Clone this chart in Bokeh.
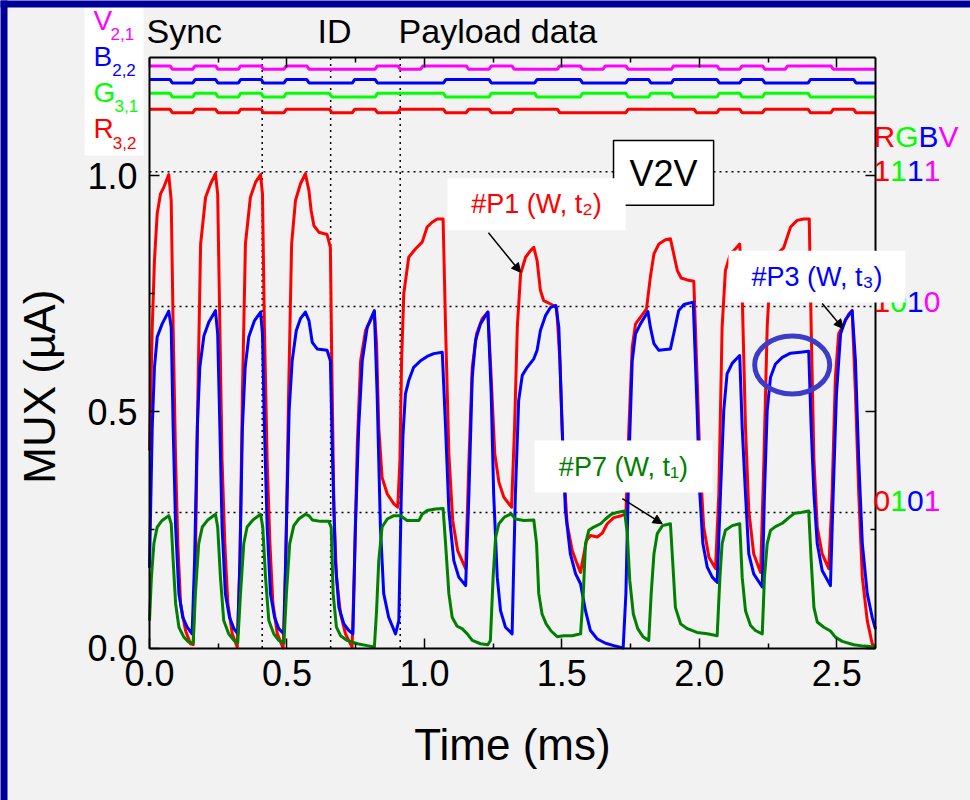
from math import pi

from bokeh.plotting import figure
from bokeh.models import (Range1d, LinearAxis, FixedTicker, NumeralTickFormatter, Label,
                          BoxAnnotation, Arrow, NormalHead)
from bokeh.embed import file_html
from bokeh.resources import INLINE

FONT = "Liberation Sans"
BG = "#f2f2f2"
NAVY = "#000099"

# ---------------------------------------------------------------- data
# bit streams of the four colour channels (1 = on), one entry per bit slot
bits_V = [1, 0, 1, 0, 1, 0, 1, 0, 0, 0, 1, 0, 1, 1, 0, 1, 0, 0, 1, 0, 1, 0, 0, 1, 1, 0, 1, 0, 1, 1, 0, 0]
bits_B = [1, 0, 1, 0, 1, 0, 1, 0, 0, 1, 0, 0, 0, 1, 1, 0, 0, 1, 1, 0, 0, 1, 0, 1, 1, 0, 1, 0, 0, 1, 1, 0]
bits_G = [1, 0, 1, 0, 1, 0, 1, 1, 0, 0, 1, 1, 1, 0, 0, 1, 1, 0, 0, 1, 1, 0, 1, 0, 0, 1, 0, 1, 1, 0, 0, 0]
bits_R = [1, 0, 1, 0, 1, 0, 1, 1, 0, 1, 0, 1, 1, 0, 1, 0, 1, 1, 0, 0, 0, 1, 1, 1, 0, 1, 0, 1, 1, 0, 1, 0]
bit_period = 0.0829   # ms
bit_start = -0.004    # ms

# MUX photocurrent traces (time in ms, current in uA)
p1_red = [
    (0.000, 0.418), (0.010, 0.679), (0.018, 0.820), (0.028, 0.919), (0.040, 0.961), (0.052, 0.975),
    (0.070, 1.002), (0.079, 0.947), (0.086, 0.679), (0.095, 0.397), (0.103, 0.221), (0.113, 0.094),
    (0.131, 0.037), (0.149, 0.009), (0.159, 0.007), (0.167, 0.185), (0.176, 0.538), (0.186, 0.855),
    (0.204, 0.954), (0.222, 0.982), (0.240, 1.004), (0.248, 0.961), (0.256, 0.679), (0.264, 0.397),
    (0.274, 0.221), (0.285, 0.094), (0.301, 0.030), (0.319, 0.002), (0.329, 0.185), (0.338, 0.538),
    (0.349, 0.855), (0.367, 0.954), (0.386, 0.986), (0.404, 1.002), (0.411, 0.961), (0.418, 0.679),
    (0.428, 0.397), (0.438, 0.221), (0.449, 0.094), (0.465, 0.030), (0.486, 0.000), (0.496, 0.185),
    (0.506, 0.538), (0.517, 0.855), (0.531, 0.947), (0.549, 0.982), (0.567, 1.004), (0.580, 0.968),
    (0.588, 0.926), (0.598, 0.894), (0.616, 0.880), (0.646, 0.875), (0.658, 0.848), (0.663, 0.608),
    (0.671, 0.291), (0.680, 0.150), (0.695, 0.072), (0.713, 0.030), (0.737, 0.002), (0.746, 0.185),
    (0.756, 0.432), (0.768, 0.608), (0.786, 0.672), (0.804, 0.693), (0.818, 0.711), (0.826, 0.644),
    (0.834, 0.467), (0.846, 0.361), (0.865, 0.326), (0.889, 0.305), (0.903, 0.298), (0.911, 0.397),
    (0.917, 0.608), (0.925, 0.750), (0.943, 0.827), (0.968, 0.845), (0.992, 0.859), (1.010, 0.891),
    (1.028, 0.901), (1.047, 0.908), (1.068, 0.908), (1.077, 0.679), (1.089, 0.411), (1.103, 0.270),
    (1.121, 0.206), (1.137, 0.185), (1.150, 0.168), (1.162, 0.397), (1.174, 0.594), (1.190, 0.665),
    (1.210, 0.697), (1.231, 0.711), (1.243, 0.573), (1.256, 0.411), (1.271, 0.351), (1.289, 0.319),
    (1.317, 0.298), (1.328, 0.467), (1.338, 0.679), (1.350, 0.792), (1.368, 0.827), (1.386, 0.841),
    (1.398, 0.848), (1.410, 0.820), (1.422, 0.757), (1.434, 0.735), (1.459, 0.728), (1.481, 0.721),
    (1.493, 0.608), (1.505, 0.397), (1.519, 0.263), (1.538, 0.206), (1.553, 0.182), (1.568, 0.160),
    (1.578, 0.192), (1.590, 0.228), (1.604, 0.238), (1.629, 0.235), (1.647, 0.243), (1.665, 0.263),
    (1.689, 0.276), (1.716, 0.280), (1.733, 0.284), (1.744, 0.467), (1.756, 0.637), (1.768, 0.686),
    (1.786, 0.700), (1.808, 0.718), (1.822, 0.785), (1.835, 0.834), (1.853, 0.855), (1.877, 0.864),
    (1.895, 0.866), (1.907, 0.834), (1.920, 0.799), (1.934, 0.783), (1.956, 0.779), (1.980, 0.776),
    (1.990, 0.608), (2.002, 0.397), (2.016, 0.256), (2.035, 0.192), (2.059, 0.168), (2.071, 0.326),
    (2.083, 0.679), (2.095, 0.799), (2.113, 0.834), (2.132, 0.845), (2.147, 0.855), (2.156, 0.750),
    (2.168, 0.467), (2.180, 0.291), (2.198, 0.199), (2.223, 0.160), (2.235, 0.397), (2.247, 0.679),
    (2.259, 0.806), (2.283, 0.834), (2.307, 0.847), (2.332, 0.891), (2.356, 0.905), (2.380, 0.908),
    (2.400, 0.908), (2.407, 0.679), (2.417, 0.397), (2.429, 0.256), (2.447, 0.199), (2.471, 0.168),
    (2.483, 0.326), (2.495, 0.573), (2.507, 0.665), (2.526, 0.686), (2.544, 0.707), (2.556, 0.714),
    (2.568, 0.538), (2.580, 0.326), (2.593, 0.150), (2.611, 0.058), (2.629, 0.009), (2.641, 0.000),
]

p3_blue = [
    (0.000, 0.170), (0.010, 0.467), (0.018, 0.594), (0.028, 0.658), (0.046, 0.686), (0.062, 0.704),
    (0.070, 0.713), (0.079, 0.679), (0.086, 0.467), (0.095, 0.256), (0.107, 0.115), (0.121, 0.065),
    (0.137, 0.044), (0.155, 0.030), (0.164, 0.185), (0.174, 0.467), (0.183, 0.594), (0.198, 0.661),
    (0.216, 0.690), (0.240, 0.714), (0.248, 0.665), (0.256, 0.467), (0.264, 0.256), (0.276, 0.115),
    (0.291, 0.065), (0.307, 0.041), (0.321, 0.030), (0.329, 0.185), (0.338, 0.467), (0.348, 0.594),
    (0.361, 0.658), (0.382, 0.693), (0.404, 0.711), (0.411, 0.665), (0.418, 0.467), (0.428, 0.256),
    (0.440, 0.115), (0.455, 0.065), (0.470, 0.041), (0.489, 0.030), (0.498, 0.256), (0.508, 0.503),
    (0.519, 0.608), (0.534, 0.672), (0.549, 0.697), (0.567, 0.711), (0.580, 0.693), (0.592, 0.647),
    (0.610, 0.633), (0.646, 0.630), (0.658, 0.608), (0.666, 0.397), (0.676, 0.185), (0.689, 0.086),
    (0.707, 0.051), (0.725, 0.037), (0.740, 0.030), (0.749, 0.256), (0.761, 0.467), (0.774, 0.608),
    (0.792, 0.679), (0.818, 0.714), (0.828, 0.538), (0.840, 0.256), (0.852, 0.115), (0.870, 0.065),
    (0.895, 0.030), (0.907, 0.058), (0.916, 0.326), (0.922, 0.450), (0.931, 0.538), (0.943, 0.566),
    (0.961, 0.594), (0.986, 0.608), (1.010, 0.617), (1.034, 0.623), (1.065, 0.626), (1.077, 0.467),
    (1.089, 0.291), (1.107, 0.185), (1.125, 0.150), (1.150, 0.132), (1.162, 0.326), (1.174, 0.573),
    (1.186, 0.651), (1.204, 0.686), (1.231, 0.711), (1.243, 0.538), (1.252, 0.326), (1.265, 0.150),
    (1.277, 0.079), (1.295, 0.044), (1.319, 0.030), (1.331, 0.326), (1.343, 0.524), (1.356, 0.577),
    (1.374, 0.594), (1.398, 0.612), (1.410, 0.630), (1.422, 0.672), (1.441, 0.704), (1.459, 0.721),
    (1.478, 0.725), (1.489, 0.679), (1.501, 0.467), (1.513, 0.291), (1.531, 0.199), (1.550, 0.157),
    (1.568, 0.136), (1.586, 0.079), (1.604, 0.037), (1.629, 0.019), (1.659, 0.010), (1.689, 0.005),
    (1.723, 0.000), (1.733, 0.115), (1.744, 0.397), (1.756, 0.608), (1.768, 0.665), (1.786, 0.686),
    (1.813, 0.712), (1.822, 0.679), (1.835, 0.644), (1.853, 0.630), (1.895, 0.633), (1.907, 0.665),
    (1.925, 0.714), (1.944, 0.727), (1.978, 0.732), (1.990, 0.538), (2.002, 0.326), (2.013, 0.221),
    (2.029, 0.171), (2.047, 0.150), (2.065, 0.139), (2.077, 0.326), (2.089, 0.503), (2.101, 0.580),
    (2.120, 0.603), (2.147, 0.619), (2.156, 0.467), (2.168, 0.326), (2.180, 0.199), (2.198, 0.157),
    (2.229, 0.129), (2.237, 0.326), (2.247, 0.503), (2.259, 0.573), (2.277, 0.601), (2.302, 0.615),
    (2.332, 0.624), (2.368, 0.626), (2.398, 0.628), (2.407, 0.467), (2.417, 0.326), (2.429, 0.221),
    (2.447, 0.164), (2.477, 0.132), (2.487, 0.326), (2.499, 0.538), (2.514, 0.665), (2.532, 0.695),
    (2.556, 0.714), (2.568, 0.608), (2.580, 0.397), (2.593, 0.221), (2.611, 0.115), (2.629, 0.065),
    (2.641, 0.040),
]

p7_green = [
    (0.000, 0.058), (0.007, 0.150), (0.016, 0.221), (0.028, 0.256), (0.046, 0.270), (0.070, 0.280),
    (0.079, 0.263), (0.086, 0.185), (0.095, 0.094), (0.107, 0.044), (0.125, 0.023), (0.143, 0.012),
    (0.159, 0.011), (0.167, 0.115), (0.179, 0.221), (0.192, 0.256), (0.212, 0.271), (0.240, 0.283),
    (0.248, 0.256), (0.258, 0.150), (0.270, 0.058), (0.288, 0.030), (0.307, 0.016), (0.321, 0.011),
    (0.331, 0.115), (0.343, 0.221), (0.355, 0.256), (0.376, 0.271), (0.404, 0.283), (0.412, 0.256),
    (0.422, 0.150), (0.434, 0.058), (0.452, 0.030), (0.470, 0.016), (0.489, 0.011), (0.498, 0.115),
    (0.510, 0.221), (0.525, 0.259), (0.543, 0.273), (0.567, 0.283), (0.580, 0.280), (0.592, 0.271),
    (0.622, 0.268), (0.652, 0.268), (0.661, 0.256), (0.668, 0.115), (0.680, 0.044), (0.695, 0.026),
    (0.719, 0.016), (0.756, 0.009), (0.792, 0.005), (0.818, 0.002), (0.826, 0.079), (0.834, 0.185),
    (0.846, 0.256), (0.865, 0.273), (0.889, 0.280), (0.913, 0.280), (0.937, 0.270), (0.980, 0.270),
    (0.992, 0.283), (1.010, 0.291), (1.040, 0.294), (1.068, 0.295), (1.077, 0.221), (1.089, 0.115),
    (1.101, 0.065), (1.119, 0.046), (1.137, 0.041), (1.156, 0.030), (1.174, 0.016), (1.204, 0.009),
    (1.231, 0.007), (1.240, 0.016), (1.250, 0.150), (1.259, 0.234), (1.271, 0.263), (1.291, 0.277),
    (1.316, 0.284), (1.331, 0.273), (1.362, 0.270), (1.398, 0.271), (1.408, 0.221), (1.416, 0.115),
    (1.428, 0.072), (1.443, 0.051), (1.461, 0.036), (1.483, 0.024), (1.507, 0.026), (1.538, 0.026),
    (1.568, 0.030), (1.578, 0.115), (1.586, 0.221), (1.598, 0.249), (1.616, 0.256), (1.641, 0.263),
    (1.659, 0.273), (1.680, 0.283), (1.701, 0.287), (1.728, 0.290), (1.738, 0.242), (1.747, 0.143),
    (1.760, 0.072), (1.776, 0.041), (1.795, 0.024), (1.816, 0.016), (1.825, 0.115), (1.835, 0.199),
    (1.847, 0.242), (1.866, 0.259), (1.895, 0.263), (1.903, 0.185), (1.913, 0.086), (1.932, 0.051),
    (1.956, 0.041), (1.992, 0.033), (2.029, 0.030), (2.065, 0.026), (2.075, 0.150), (2.083, 0.221),
    (2.095, 0.249), (2.120, 0.259), (2.147, 0.263), (2.156, 0.150), (2.168, 0.079), (2.186, 0.048),
    (2.204, 0.037), (2.229, 0.030), (2.237, 0.150), (2.247, 0.221), (2.259, 0.249), (2.277, 0.257),
    (2.302, 0.264), (2.326, 0.276), (2.346, 0.285), (2.371, 0.287), (2.398, 0.290), (2.407, 0.185),
    (2.417, 0.086), (2.429, 0.055), (2.453, 0.044), (2.477, 0.036), (2.495, 0.023), (2.520, 0.014),
    (2.562, 0.007), (2.598, 0.004), (2.641, 0.002),
]

# MUX levels of the reference codes (RGBV order)
level_codes = ["1111", "1010", "0101"]
level_values = [1.008, 0.723, 0.287]
# frame boundaries: Sync | ID | Payload data
section_bounds = [0.410, 0.659, 0.912]
x_ticks = [0.0, 0.5, 1.0, 1.5, 2.0, 2.5]
x_minor = [0.25, 0.75, 1.25, 1.75, 2.25]
y_ticks = [0.0, 0.5, 1.0]
y_minor = [0.25, 0.75]
T_MAX = 2.641
I_MAX = 1.25

# ---------------------------------------------------------------- figure
# the frame fills the whole canvas; the axes sit at fixed data locations
X_LO, X_HI = -0.54202, 2.98654
Y_LO, Y_HI = -0.32275, 1.37037
p = figure(width=970, height=800,
           x_range=Range1d(X_LO, X_HI), y_range=Range1d(Y_LO, Y_HI),
           output_backend="svg", toolbar_location=None,
           min_border_left=0, min_border_right=0, min_border_top=0, min_border_bottom=0,
           background_fill_color=BG, border_fill_color=BG, outline_line_color=None)
p.xgrid.visible = False
p.ygrid.visible = False

xticker = FixedTicker(ticks=x_ticks, minor_ticks=x_minor)
yticker = FixedTicker(ticks=y_ticks, minor_ticks=y_minor)


def style_axis(ax, show_labels):
    ax.axis_line_width = 2
    ax.axis_line_color = "black"
    ax.major_tick_in = 10
    ax.major_tick_out = 0
    ax.minor_tick_in = 5
    ax.minor_tick_out = 0
    ax.major_tick_line_width = 1.5
    ax.minor_tick_line_width = 1.5
    ax.major_tick_line_color = "black"
    ax.minor_tick_line_color = "black"
    ax.major_label_text_font = FONT
    ax.major_label_text_font_size = "36px"
    ax.major_label_text_color = "black" if show_labels else None


xa = p.xaxis[0]
xa.ticker = xticker
xa.fixed_location = 0
xa.bounds = (0, T_MAX)
xa.formatter = NumeralTickFormatter(format="0.0")
style_axis(xa, True)
xa.major_label_standoff = 12
xa.axis_label = "Time (ms)"
xa.axis_label_text_font = FONT
xa.axis_label_text_font_size = "44px"
xa.axis_label_text_font_style = "normal"
xa.axis_label_text_color = "black"
xa.axis_label_standoff = 30

ya = p.yaxis[0]
ya.ticker = yticker
ya.fixed_location = 0
ya.bounds = (0, I_MAX)
ya.formatter = NumeralTickFormatter(format="0.0")
style_axis(ya, True)
ya.major_label_standoff = 12

top_ax = LinearAxis(ticker=xticker, fixed_location=I_MAX, bounds=(0, T_MAX))
style_axis(top_ax, False)
p.add_layout(top_ax, "above")
right_ax = LinearAxis(ticker=yticker, fixed_location=T_MAX, bounds=(0, I_MAX))
style_axis(right_ax, False)
p.add_layout(right_ax, "right")

# dotted guide lines
p.segment(x0=[0] * len(level_values), x1=[T_MAX] * len(level_values),
          y0=level_values, y1=level_values, line_color="black", line_width=1.5,
          line_dash="2 4", level="underlay")
p.segment(x0=section_bounds, x1=section_bounds,
          y0=[0] * len(section_bounds), y1=[I_MAX] * len(section_bounds),
          line_color="black", line_width=1.5, line_dash="2 4", level="underlay")

# channel bit streams along the top of the frame
channels = [
    (bits_V, 1.225, 1.232, "#ff00ff"),
    (bits_B, 1.196, 1.203, "#0000ff"),
    (bits_G, 1.166, 1.174, "#00ff00"),
    (bits_R, 1.133, 1.140, "#ff0000"),
]
for bits, lo, hi, color in channels:
    xs, ys = [], []
    for k, b in enumerate(bits):
        lvl = hi if b else lo
        x0 = max(0.0, bit_start + k * bit_period + 0.004)
        x1 = min(T_MAX, bit_start + (k + 1) * bit_period - 0.004)
        xs += [x0, x1]
        ys += [lvl, lvl]
    p.line(xs, ys, line_color=color, line_width=3)

# MUX traces
for trace, color in [(p1_red, "#ff0000"), (p3_blue, "#0000ff"), (p7_green, "#008000")]:
    p.line([t for t, _ in trace], [v for _, v in trace], line_color=color, line_width=3,
           line_join="round")

# highlighted plateau of #P3
p.ellipse(x=[2.338], y=[0.599], width=[0.273], height=[0.123], fill_color=None,
          line_color="#3c3cc8", line_width=5)


def label(text, x, y, size, color="black", align="left", angle=0.0, x_offset=0):
    # y is the vertical centre of the text
    p.add_layout(Label(x=x, y=y, text=text, text_font=FONT, text_font_size=size,
                       text_color=color, text_align=align, text_baseline="middle",
                       angle=angle, x_offset=x_offset))


def box(left, right, top, bottom, line_color=None, fill="white"):
    p.add_layout(BoxAnnotation(left=left, right=right, top=top, bottom=bottom,
                               fill_color=fill, fill_alpha=1.0,
                               line_color=line_color, line_width=1.5,
                               line_alpha=1.0 if line_color else 0.0))


# y-axis title
label("MUX (\u00b5A)", -0.400, 0.553, "44px", align="center", angle=pi / 2)

# frame sections
label("Sync", -0.011, 1.3052, "34px")
label("ID", 0.611, 1.3052, "34px")
label("Payload data", 0.906, 1.3052, "34px")

# channel names
box(-0.2364, -0.0218, 1.3556, 1.0423)
for main, sub, col, y_main, y_sub, x_sub in [
    ("V", "2,1", "#ff00ff", 1.3280, 1.2990, -0.1419),
    ("B", "2,2", "#0000ff", 1.2519, 1.2228, -0.1357),
    ("G", "3,1", "#00ff00", 1.1757, 1.1466, -0.1273),
    ("R", "3,2", "#ff0000", 1.0995, 1.0683, -0.1335),
]:
    label(main, -0.2037, y_main, "28px", color=col)
    label(sub, x_sub, y_sub, "17px", color=col)

# level codes on the right
char_adv = {"R": 0.722, "G": 0.778, "B": 0.667, "V": 0.667, "0": 0.556, "1": 0.556}
code_colors = ["#ff0000", "#00ff00", "#0000ff", "#ff00ff"]


def code_text(text, y, size_px=30):
    off = 0.0
    for ch, col in zip(text, code_colors):
        label(ch, 2.634, y, f"{size_px}px", color=col, x_offset=off)
        off += char_adv[ch] * size_px


code_text("RGBV", 1.0825)
for code, y in zip(level_codes, [1.0085, 0.7333, 0.3101]):
    code_text(code, y)

# annotation boxes
box(1.688, 2.052, 1.074, 0.937, line_color="black")
label("V2V", 1.870, 1.005, "36px", align="center")

arrow_head = dict(size=9, fill_color="black", line_color="black")

box(1.084, 1.732, 0.994, 0.884)
label("#P1 (W, t\u2082)", 1.408, 0.939, "27px", color="#ff0000", align="center")
p.add_layout(Arrow(x_start=1.233, y_start=0.879, x_end=1.350, y_end=0.795, line_width=1.5,
                   line_color="black", end=NormalHead(**arrow_head)))

box(1.401, 2.048, 0.439, 0.329)
label("#P7 (W, t\u2081)", 1.724, 0.384, "27px", color="#008000", align="center")
p.add_layout(Arrow(x_start=1.720, y_start=0.316, x_end=1.865, y_end=0.263, line_width=1.5,
                   line_color="black", end=NormalHead(**arrow_head)))

box(2.106, 2.750, 0.841, 0.731)
label("#P3 (W, t\u2083)", 2.428, 0.786, "27px", color="#0000ff", align="center")
p.add_layout(Arrow(x_start=2.447, y_start=0.729, x_end=2.523, y_end=0.676, line_width=1.5,
                   line_color="black", end=NormalHead(**arrow_head)))

# slide frame: navy strips along the top and left edges
box(X_LO - 0.1, -0.5165, Y_HI + 0.1, Y_LO - 0.1, fill=NAVY)
box(X_LO - 0.1, X_HI + 0.1, Y_HI + 0.1, 1.3556, fill=NAVY)

open("out.html", "w").write(file_html(p, INLINE))
